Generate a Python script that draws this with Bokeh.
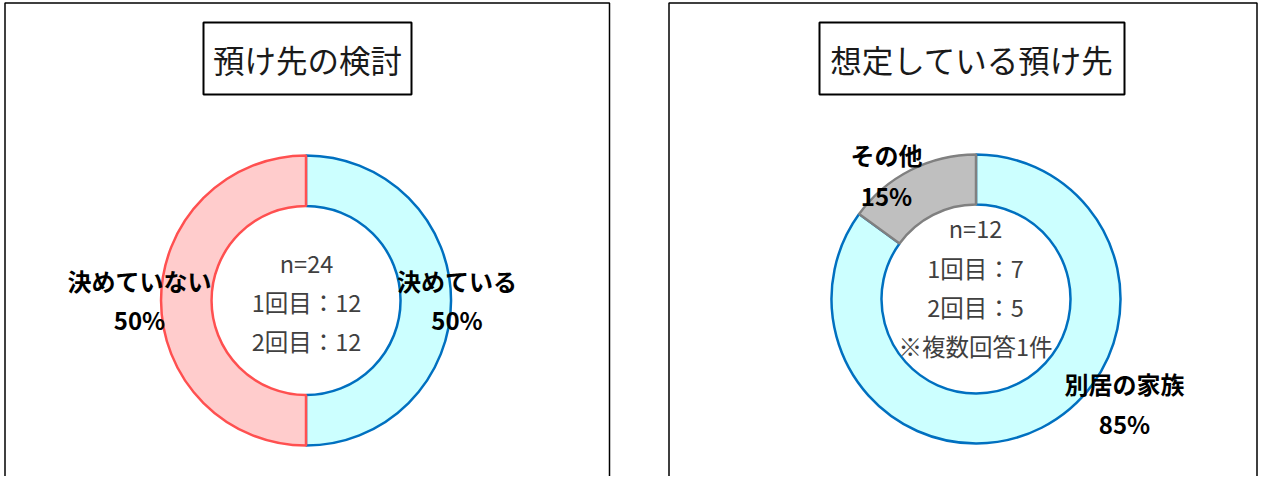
from bokeh.plotting import figure
from bokeh.models import Range1d, ColumnDataSource
from bokeh.core.properties import value
from bokeh.embed import file_html
from bokeh.resources import INLINE
import math

# ---------------- data ----------------
left_title = "預け先の検討"
left_categories = ["決めている", "決めていない"]
left_values = [50, 50]
left_center_lines = ["n=24", "1回目：12", "2回目：12"]

right_title = "想定している預け先"
right_categories = ["別居の家族", "その他"]
right_values = [85, 15]
right_center_lines = ["n=12", "1回目：7", "2回目：5", "※複数回答1件"]

# ---------------- style / layout ----------------
FONT = "Noto Sans CJK JP"
H = 492  # screen height used for flipping coordinates
def Y(sy):
    return H - sy

left_fill = ["#CCFFFF", "#FFCCCC"]
left_line = ["#0070C0", "#FF5050"]
right_fill = ["#CCFFFF", "#BFBFBF"]
right_line = ["#0070C0", "#808080"]

W_FIG, H_FIG = 1258, 476
p = figure(width=W_FIG, height=H_FIG, output_backend="svg", toolbar_location=None,
           x_range=Range1d(0, W_FIG), y_range=Range1d(H - H_FIG, H),
           min_border=0, outline_line_color=None, background_fill_color="white",
           border_fill_color="white")
p.axis.visible = False
p.grid.visible = False

# panel frames
p.quad(left=[4.5, 668.5], right=[609, 1256.5], top=[Y(2.5), Y(2.5)], bottom=[-20, -20],
       fill_color=None, line_color="black", line_width=1.5)

# title boxes
p.quad(left=[203, 819], right=[411, 1124], top=[Y(22), Y(22)], bottom=[Y(94), Y(94)],
       fill_color="white", line_color="black", line_width=2)
p.text(x=[307, 971.5], y=[Y(58), Y(58)], text=[left_title, right_title],
       text_font=value(FONT), text_font_size="31.5px", text_color="#1a1a1a",
       text_align="center", text_baseline="middle")


def donut(cx, cy, values, fills, lines, r_in=94.5, r_out=145):
    total = float(sum(values))
    starts, ends = [], []
    cum = 0.0
    for v in values:
        a_end = math.pi / 2 - 2 * math.pi * cum / total
        cum += v
        a_start = math.pi / 2 - 2 * math.pi * cum / total
        starts.append(a_start)
        ends.append(a_end)
    src = ColumnDataSource(dict(x=[cx] * len(values), y=[Y(cy)] * len(values),
                                start=starts, end=ends, fill=fills, line=lines))
    p.annular_wedge(x="x", y="y", inner_radius=r_in, outer_radius=r_out,
                    start_angle="start", end_angle="end", direction="anticlock",
                    fill_color="fill", line_color="line", line_width=2.5, source=src)


donut(305.5, 300, left_values, left_fill, left_line)
donut(975.5, 298.5, right_values, right_fill, right_line, r_in=94.5, r_out=144.5)

# center texts
p.text(x=[306] * 3, y=[Y(v) for v in (262, 301, 340)], text=left_center_lines,
       text_font=value(FONT), text_font_size="23.5px", text_color="#404040",
       text_align="center", text_baseline="middle")
p.text(x=[975] * 4, y=[Y(v) for v in (227, 267, 306, 345)], text=right_center_lines,
       text_font=value(FONT), text_font_size="23.5px", text_color="#404040",
       text_align="center", text_baseline="middle")

# slice labels (category + percentage)
left_label_pos = [(456.5, 280, 319), (139, 280, 319)]
right_label_pos = [(1124, 383, 423), (886, 154, 195)]

def labels(cats, vals, pos):
    total = float(sum(vals))
    xs, ys, ts = [], [], []
    for c, v, (lx, ly1, ly2) in zip(cats, vals, pos):
        xs += [lx, lx]
        ys += [Y(ly1), Y(ly2)]
        ts += [c, f"{round(100 * v / total)}%"]
    p.text(x=xs, y=ys, text=ts, text_font=value(FONT), text_font_size="24px",
           text_font_style="bold", text_color="black",
           text_align="center", text_baseline="middle")

labels(left_categories, left_values, left_label_pos)
labels(right_categories, right_values, right_label_pos)

open("out.html", "w").write(file_html(p, INLINE))
